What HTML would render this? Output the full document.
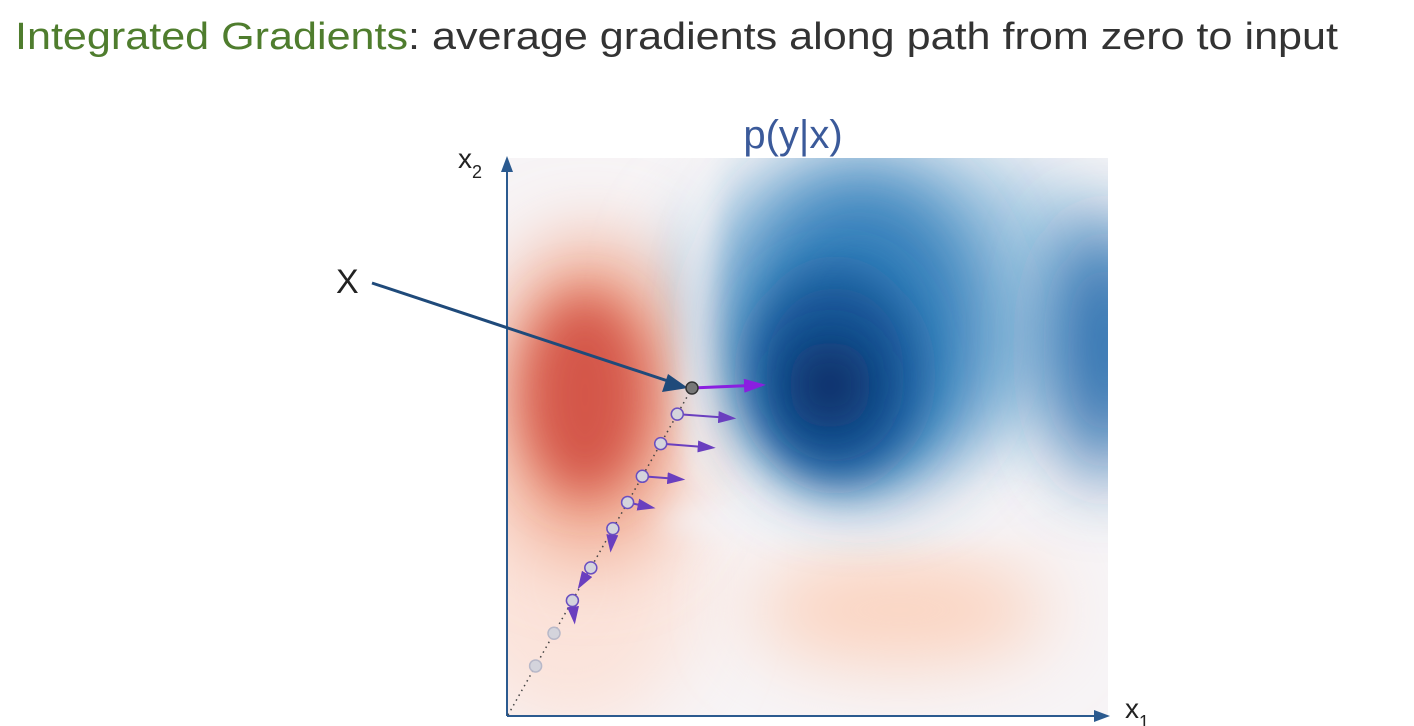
<!DOCTYPE html>
<html><head><meta charset="utf-8"><style>
html,body{margin:0;padding:0;background:#fff;width:1414px;height:726px;overflow:hidden}
svg{display:block}
text{font-family:"Liberation Sans",sans-serif}
</style></head><body>
<svg width="1414" height="726" viewBox="0 0 1414 726">
<defs>
<filter id="b1" x="-100%" y="-100%" width="300%" height="300%"><feGaussianBlur stdDeviation="38"/></filter>
<filter id="b2" x="-100%" y="-100%" width="300%" height="300%"><feGaussianBlur stdDeviation="24"/></filter>
<filter id="b3" x="-100%" y="-100%" width="300%" height="300%"><feGaussianBlur stdDeviation="14"/></filter>
<clipPath id="hc"><rect x="508" y="158" width="600" height="557"/></clipPath>
<marker id="mk" markerWidth="20" markerHeight="12" refX="14" refY="6" orient="auto" markerUnits="userSpaceOnUse"><path d="M0,0 L18,6 L0,12 z" fill="#6a3fbf"/></marker>
<marker id="mk2" markerWidth="24" markerHeight="14" refX="18" refY="7" orient="auto" markerUnits="userSpaceOnUse"><path d="M0,0 L22,7 L0,14 z" fill="#8a1fe0"/></marker>
</defs>
<text x="15" y="49" font-size="38" fill="#333" textLength="1323" lengthAdjust="spacingAndGlyphs"><tspan fill="#4f7d2e">Integrated Gradients</tspan>: average gradients along path from zero to input</text>
<text x="793" y="148" font-size="40" fill="#3b5a9a" text-anchor="middle">p(y|x)</text>
<g clip-path="url(#hc)">
<rect x="508" y="158" width="600" height="557" fill="#f7f4f6"/>
<ellipse cx="570" cy="580" rx="130" ry="150" fill="#fbe3da" filter="url(#b1)"/>
<ellipse cx="900" cy="610" rx="150" ry="55" fill="#fbd3bf" filter="url(#b1)"/>
<ellipse cx="900" cy="300" rx="230" ry="150" fill="#a9cbe3" filter="url(#b1)"/>
<ellipse cx="590" cy="400" rx="100" ry="160" fill="#f0a88e" filter="url(#b1)"/>
<ellipse cx="585" cy="395" rx="62" ry="100" fill="#d4574a" filter="url(#b2)"/>
<ellipse cx="702" cy="300" rx="16" ry="200" fill="#f7f4f6" filter="url(#b3)"/>
<ellipse cx="860" cy="520" rx="200" ry="18" fill="#f4f3f6" filter="url(#b3)"/>
<ellipse cx="860" cy="330" rx="130" ry="160" fill="#3480bb" filter="url(#b1)"/>
<ellipse cx="1105" cy="350" rx="50" ry="130" fill="#2467aa" filter="url(#b1)"/>
<ellipse cx="835" cy="375" rx="85" ry="105" fill="#175495" filter="url(#b2)"/>
<ellipse cx="830" cy="385" rx="42" ry="45" fill="#08306b" filter="url(#b2)"/>
</g>
<g>
<line x1="507" y1="716" x2="1100" y2="716" stroke="#2b5a8f" stroke-width="2"/>
<path d="M1094,710 L1110,716 L1094,722 z" fill="#2b5a8f"/>
<line x1="507" y1="716" x2="507" y2="168" stroke="#2b5a8f" stroke-width="2"/>
<path d="M501,172 L507,156 L513,172 z" fill="#2b5a8f"/>
<text x="1125" y="718" font-size="28" fill="#222">x<tspan font-size="18" dy="10">1</tspan></text>
<text x="458" y="168" font-size="28" fill="#222">x<tspan font-size="18" dy="10">2</tspan></text>
</g>
<text x="336" y="293" font-size="34" fill="#222">X</text>
<line x1="372" y1="283" x2="668" y2="381" stroke="#1f4a7a" stroke-width="3"/>
<path d="M688,388 L662,392 L668,374 z" fill="#1f4a7a"/>
<g id="path"></g>
</svg>
<script>
// alpha steps along the path (0..1), gradient vectors (dx,dy in px) at each step
const alphas = [0.15, 0.25, 0.35, 0.45, 0.57, 0.65, 0.73, 0.83, 0.92, 1.0];
const gradX = [0, 0, 2, -11, -2, 24, 39, 51, 55, 70];
const gradY = [0, 0, 20, 18, 20, 5, 3, 4, 4, -3];
const showArrow = [false, false, true, true, true, true, true, true, true, true];
const x0 = 508, y0 = 715, x1 = 692, y1 = 388;
const px = a => x0 + (x1 - x0) * a;
const py = a => y0 + (y1 - y0) * a;
const NS = "http://www.w3.org/2000/svg";
const g = document.getElementById("path");
const dl = document.createElementNS(NS, "line");


dl.setAttribute("x1", px(0)); dl.setAttribute("y1", py(0));
dl.setAttribute("x2", px(1)); dl.setAttribute("y2", py(1));
dl.setAttribute("stroke", "#444"); dl.setAttribute("stroke-width", "1.5");
dl.setAttribute("stroke-dasharray", "1.5 4");
g.appendChild(dl);
alphas.forEach((a, i) => {
  const cx = px(a), cy = py(a);
  const last = i === alphas.length - 1;
  if (showArrow[i]) {
    const ln = document.createElementNS(NS, "line");
    
    
    ln.setAttribute("x1", cx); ln.setAttribute("y1", cy);
    ln.setAttribute("x2", cx + gradX[i]); ln.setAttribute("y2", cy + gradY[i]);
    ln.setAttribute("stroke", last ? "#8a1fe0" : "#6a3fbf");
    ln.setAttribute("stroke-width", last ? "3" : "2");
    ln.setAttribute("marker-end", last ? "url(#mk2)" : "url(#mk)");
    g.appendChild(ln);
  }
  const c = document.createElementNS(NS, "circle");
  
  
  c.setAttribute("cx", cx); c.setAttribute("cy", cy);
  c.setAttribute("r", 6);
  c.setAttribute("fill", last ? "#777" : "#d4d4dc");
  c.setAttribute("stroke", last ? "#333" : (showArrow[i] ? "#6a4fc0" : "#b8b8c8"));
  c.setAttribute("stroke-width", "1.5");
  g.appendChild(c);
});
</script>
</body></html>
